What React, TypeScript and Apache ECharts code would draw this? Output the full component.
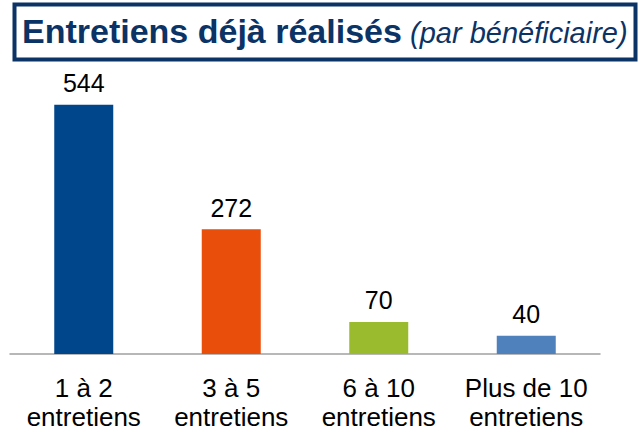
import React, { useEffect, useRef } from "react";
import * as echarts from "echarts";

const categories = ["1 à 2\nentretiens", "3 à 5\nentretiens", "6 à 10\nentretiens", "Plus de 10\nentretiens"];
const values = [544, 272, 70, 40];
const barColors = ["#00468B", "#EA4E0B", "#9BBB2F", "#4F81BD"];
const titleMain = "Entretiens déjà réalisés";
const titleSub = "(par bénéficiaire)";

export default function App() {
  const ref = useRef<HTMLDivElement>(null);
  useEffect(() => {
    if (!ref.current) return;
    const chart = echarts.init(ref.current, null, { renderer: "svg" });
    const font = "Liberation Sans";
    chart.setOption({
      animation: false,
      backgroundColor: "#ffffff",
      grid: { left: 10, right: 39, top: 79, bottom: 80, containLabel: false },
      xAxis: {
        type: "category",
        data: categories,
        axisLine: { lineStyle: { color: "#A0A0A0", width: 1.5 } },
        axisTick: { length: 9, lineStyle: { color: "#A0A0A0", width: 1.5 } },
        axisLabel: {
          interval: 0,
          color: "#000000",
          fontFamily: font,
          fontSize: 26,
          lineHeight: 29,
          margin: 19,
        },
      },
      yAxis: {
        type: "value",
        min: 0,
        max: 600,
        show: false,
        splitLine: { show: false },
      },
      series: [
        {
          type: "bar",
          barWidth: "40%",
          data: values.map((v, i) => ({ value: v, itemStyle: { color: barColors[i] } })),
          label: {
            show: true,
            position: "top",
            distance: 9,
            color: "#000000",
            fontFamily: font,
            fontSize: 25,
          },
        },
      ],
      graphic: [
        {
          type: "rect",
          shape: { x: 14.5, y: 4.5, width: 621, height: 55 },
          style: { fill: "#ffffff", stroke: "#0B3366", lineWidth: 4 },
        },
        {
          type: "text",
          x: 22,
          y: 31,
          style: {
            text: titleMain,
            fill: "#0B3366",
            font: "bold 34px Liberation Sans",
            verticalAlign: "middle",
            align: "left",
          },
        },
        {
          type: "text",
          x: 410,
          y: 33,
          style: {
            text: titleSub,
            fill: "#0B3366",
            font: "italic 29px Liberation Sans",
            verticalAlign: "middle",
            align: "left",
          },
        },
      ],
    });
    return () => chart.dispose();
  }, []);
  return <div ref={ref} style={{ width: 639, height: 434, position: "absolute", left: 0, top: 0 }} />;
}
